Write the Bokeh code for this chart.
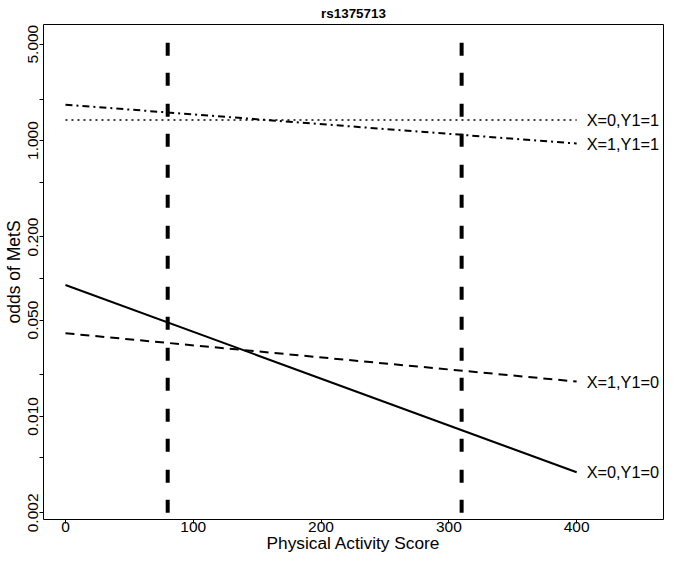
from bokeh.plotting import figure
from bokeh.models import FixedTicker, PrintfTickFormatter, Range1d, ColumnDataSource
from bokeh.core.properties import value
from bokeh.embed import file_html
from bokeh.resources import INLINE

# ---- data ----
title_text = "rs1375713"
x_label = "Physical Activity Score"
y_label = "odds of MetS"

x_ends = [0, 400]
odds_x0_y1_0 = [0.0897, 0.00394]   # solid
odds_x1_y1_0 = [0.0401, 0.0179]    # dashed
odds_x0_y1_1 = [1.41, 1.41]        # dotted
odds_x1_y1_1 = [1.82, 0.951]       # dot-dash

series_labels = ["X=0,Y1=0", "X=1,Y1=0", "X=0,Y1=1", "X=1,Y1=1"]

cut_points = [80, 310]
cut_span = [0.002, 10]

x_ticks = [0, 100, 200, 300, 400]
y_ticks_labeled = [0.002, 0.01, 0.05, 0.2, 1, 5]
y_ticks_minor = [0.005, 0.02, 0.1, 0.5, 2]

FONT = "Liberation Sans"

p = figure(width=664, height=555,
           x_range=Range1d(-17.19, 467.97),
           y_range=Range1d(0.00179, 6.94),
           y_axis_type="log",
           output_backend="svg", toolbar_location=None,
           min_border_left=42, min_border_right=1,
           min_border_top=24, min_border_bottom=35)

p.background_fill_color = "white"
p.border_fill_color = "white"
p.outline_line_color = "black"
p.outline_line_width = 1
p.grid.visible = False

p.title.text = title_text
p.title.align = "center"
p.title.text_font = FONT
p.title.text_font_size = "13.4px"
p.title.text_font_style = "bold"
p.title.text_color = "black"
p.title.standoff = 7
p.title.offset = 0

# x axis
xa = p.xaxis[0]
xa.ticker = FixedTicker(ticks=x_ticks)
xa.axis_line_color = None
xa.major_tick_in = 0
xa.major_tick_out = 4
xa.major_tick_line_color = "black"
xa.minor_tick_line_color = None
xa.major_label_text_font = FONT
xa.major_label_text_font_size = "15.5px"
xa.major_label_text_color = "black"
xa.major_label_standoff = -2
xa.axis_label = x_label
xa.axis_label_text_font = FONT
xa.axis_label_text_font_size = "17.3px"
xa.axis_label_text_font_style = "normal"
xa.axis_label_text_color = "black"
xa.axis_label_standoff = -2

# y axis
ya = p.yaxis[0]
ya.ticker = FixedTicker(ticks=y_ticks_labeled, minor_ticks=y_ticks_minor)
ya.formatter = PrintfTickFormatter(format="%.3f")
ya.axis_line_color = None
ya.major_tick_in = 0
ya.major_tick_out = 4
ya.major_tick_line_color = "black"
ya.minor_tick_in = 0
ya.minor_tick_out = 4
ya.minor_tick_line_color = "black"
ya.major_label_orientation = "vertical"
ya.major_label_text_font = FONT
ya.major_label_text_font_size = "15.5px"
ya.major_label_text_color = "black"
ya.major_label_standoff = 1
ya.axis_label = y_label
ya.axis_label_text_font = FONT
ya.axis_label_text_font_size = "17.5px"
ya.axis_label_text_font_style = "normal"
ya.axis_label_text_color = "black"
ya.axis_label_standoff = 2

# cut-point lines
for cx in cut_points:
    p.line([cx, cx], cut_span, line_color="black", line_width=4,
           line_dash="13 17 13 18")

# series
p.line(x_ends, odds_x0_y1_0, line_color="black", line_width=2)
p.line(x_ends, odds_x1_y1_0, line_color="black", line_width=2, line_dash="9 6")
p.line(x_ends, odds_x0_y1_1, line_color="black", line_width=1.6, line_dash="2 4")
p.line(x_ends, odds_x1_y1_1, line_color="black", line_width=2, line_dash="7 4 2 4")

ends = [odds_x0_y1_0[-1], odds_x1_y1_0[-1], odds_x0_y1_1[-1], odds_x1_y1_1[-1]]
src = ColumnDataSource(dict(x=[x_ends[-1]] * 4, y=ends, t=series_labels))
p.text(x="x", y="y", text="t", source=src, x_offset=10,
       text_align="left", text_baseline="middle",
       text_font=value(FONT), text_font_size="16.3px", text_color="black")

open("out.html", "w").write(file_html(p, INLINE))
